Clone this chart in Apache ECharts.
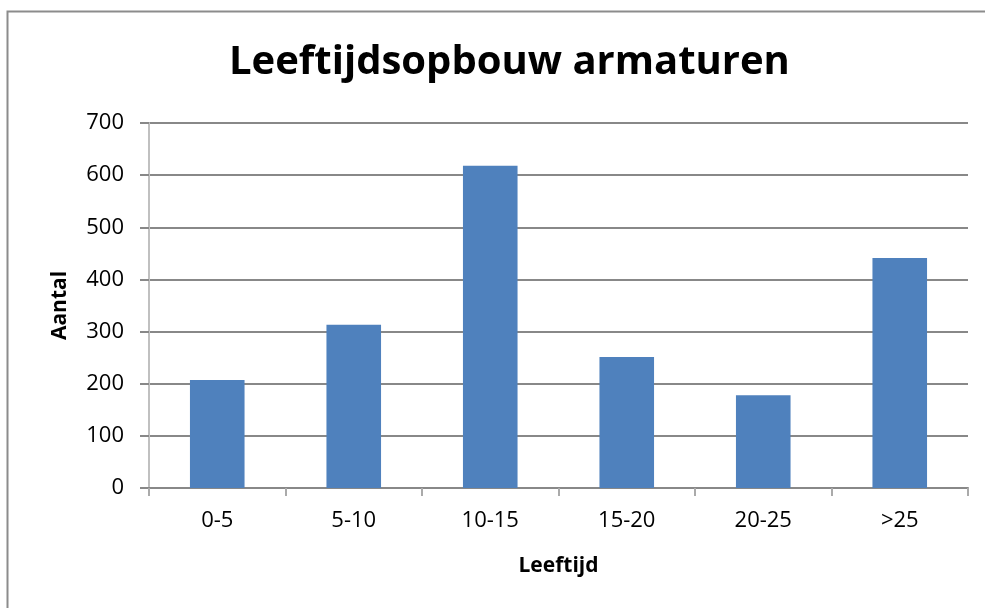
<!DOCTYPE html>
<html>
<head>
<meta charset="utf-8">
<script src="https://cdn.jsdelivr.net/npm/echarts@6/dist/echarts.min.js"></script>
<style>
  html, body { margin: 0; padding: 0; background: #fff; }
  #main { width: 985px; height: 608px; }
</style>
</head>
<body>
<div id="main"></div>
<script>
// leeftijdsklassen en aantallen
var categories = ['0-5', '5-10', '10-15', '15-20', '20-25', '>25'];
var aantal = [207, 313, 618, 251, 178, 441];
var yTicks = { min: 0, max: 700, interval: 100 };

var fontName = 'Open Sans';
var gridColor = '#888888';

var myChart = echarts.init(document.getElementById('main'));
var option = {
    animation: false,
    backgroundColor: '#fff',
    title: {
        text: 'Leeftijdsopbouw armaturen',
        left: 224,
        top: 38,
        textStyle: {
            fontFamily: fontName,
            fontWeight: 'bold',
            fontSize: 40,
            color: '#000'
        }
    },
    graphic: [
        {
            type: 'rect',
            left: 5,
            top: 9,
            shape: { width: 1000, height: 700 },
            style: { fill: 'none', stroke: '#8c8c8c', lineWidth: 2 },
            silent: true
        }
    ],
    grid: {
        left: 149,
        right: 17,
        top: 123,
        bottom: 120
    },
    xAxis: {
        type: 'category',
        data: categories,
        name: 'Leeftijd',
        nameLocation: 'middle',
        nameGap: 68,
        nameTextStyle: {
            fontFamily: fontName,
            fontWeight: 'bold',
            fontSize: 21,
            color: '#000'
        },
        axisLine: { lineStyle: { color: gridColor, width: 2 } },
        axisTick: { show: true, length: 8, lineStyle: { color: '#aaaaaa', width: 2 } },
        axisLabel: {
            margin: 22,
            fontFamily: fontName,
            fontSize: 22,
            color: '#000'
        },
        splitLine: { show: false }
    },
    yAxis: {
        type: 'value',
        min: yTicks.min,
        max: yTicks.max,
        interval: yTicks.interval,
        name: 'Aantal',
        nameLocation: 'middle',
        nameGap: 78,
        nameRotate: 90,
        nameTextStyle: {
            fontFamily: fontName,
            fontWeight: 'bold',
            fontSize: 21,
            color: '#000'
        },
        axisLine: { show: true, lineStyle: { color: '#c0c0c0', width: 2 } },
        axisTick: { show: true, length: 9, lineStyle: { color: gridColor, width: 2 } },
        axisLabel: {
            margin: 25,
            fontFamily: fontName,
            fontSize: 22,
            color: '#000'
        },
        splitLine: { show: true, lineStyle: { color: gridColor, width: 2 } }
    },
    series: [
        {
            type: 'bar',
            data: aantal,
            barWidth: '40%',
            itemStyle: { color: '#4F81BD' }
        }
    ]
};
myChart.setOption(option);
</script>
</body>
</html>
